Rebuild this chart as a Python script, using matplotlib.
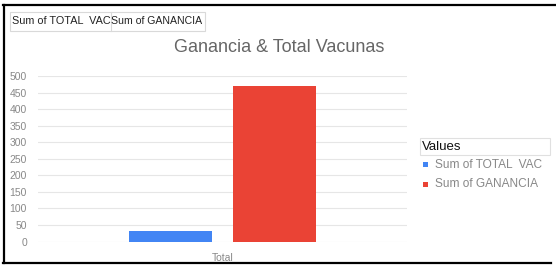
import matplotlib
matplotlib.use("Agg")
import matplotlib.pyplot as plt
import numpy as np
from matplotlib.patches import Rectangle
from matplotlib.lines import Line2D

plt.rcParams['font.family'] = ['Liberation Sans', 'DejaVu Sans']

categories = ["Total"]
series_names = ["Sum of TOTAL  VAC", "Sum of GANANCIA"]
total_vac = [33]
ganancia = [470]
y_ticks = [0, 50, 100, 150, 200, 250, 300, 350, 400, 450, 500]
title = "Ganancia & Total Vacunas"
legend_title = "Values"
colors = ["#4285f4", "#ea4335"]

W, H = 556, 268
fig = plt.figure(figsize=(W / 100, H / 100), dpi=100)

def fx(px):
    return px / W

def fy(py):
    return 1 - py / H

# outer frame
fig.add_artist(Line2D([fx(4), fx(4)], [fy(5), fy(263)], color="black", lw=1.6, transform=fig.transFigure))
fig.add_artist(Line2D([fx(3), fx(556)], [fy(5), fy(5)], color="black", lw=1.6, transform=fig.transFigure))
fig.add_artist(Line2D([fx(3), fx(551)], [fy(263), fy(263)], color="black", lw=1.6, transform=fig.transFigure))

# field buttons
fig.add_artist(Rectangle((fx(10), fy(31)), fx(205) - fx(10), fy(12) - fy(31), transform=fig.transFigure,
                         fill=False, edgecolor="#d9d9d9", lw=0.8))
fig.add_artist(Line2D([fx(111), fx(111)], [fy(12), fy(31)], color="#d9d9d9", lw=0.8, transform=fig.transFigure))
fig.text(fx(12), fy(21.5), series_names[0], fontsize=7.8, color="#222222", va="center", ha="left")
fig.text(fx(111), fy(21.5), series_names[1].replace("  ", " "), fontsize=7.6, color="#222222", va="center", ha="left")

# title
fig.text(fx(279), fy(48), title, fontsize=13, color="#666666", ha="center", va="center")

ax = fig.add_axes([fx(38), fy(241.5), fx(407) - fx(38), fy(76) - fy(241.5)])
x = np.arange(len(categories))
bw = 0.225
ax.bar(x - 0.142, total_vac, bw, color=colors[0], label=series_names[0])
ax.bar(x + 0.141, ganancia, bw, color=colors[1], label=series_names[1])
ax.set_xlim(-0.5, 0.5)
ax.set_ylim(0, 500)
ax.set_yticks(y_ticks)
ax.set_xticks(x)
ax.set_xticklabels(categories)
ax.tick_params(axis="both", length=0, labelsize=7.5, labelcolor="#888888")
ax.tick_params(axis="y", pad=8)
ax.tick_params(axis="x", pad=8)
for s in ax.spines.values():
    s.set_visible(False)
ax.grid(axis="y", color="#e6e6e6", lw=0.8)
ax.set_axisbelow(True)

# legend
fig.add_artist(Rectangle((fx(420), fy(155)), fx(550) - fx(420), fy(138) - fy(155), transform=fig.transFigure,
                         fill=False, edgecolor="#e0e0e0", lw=0.8))
fig.text(fx(422), fy(146.5), legend_title, fontsize=9.5, color="#111111", ha="left", va="center")
for i, (name, c) in enumerate(zip(series_names, colors)):
    yy = 164.5 + i * 19.5
    fig.add_artist(Rectangle((fx(423), fy(yy + 2.5)), fx(5), fy(0) - fy(5), transform=fig.transFigure,
                             facecolor=c, edgecolor="none"))
    fig.text(fx(435), fy(yy), name, fontsize=8.6, color="#888888", ha="left", va="center")

fig.savefig("out.png", dpi=100)
